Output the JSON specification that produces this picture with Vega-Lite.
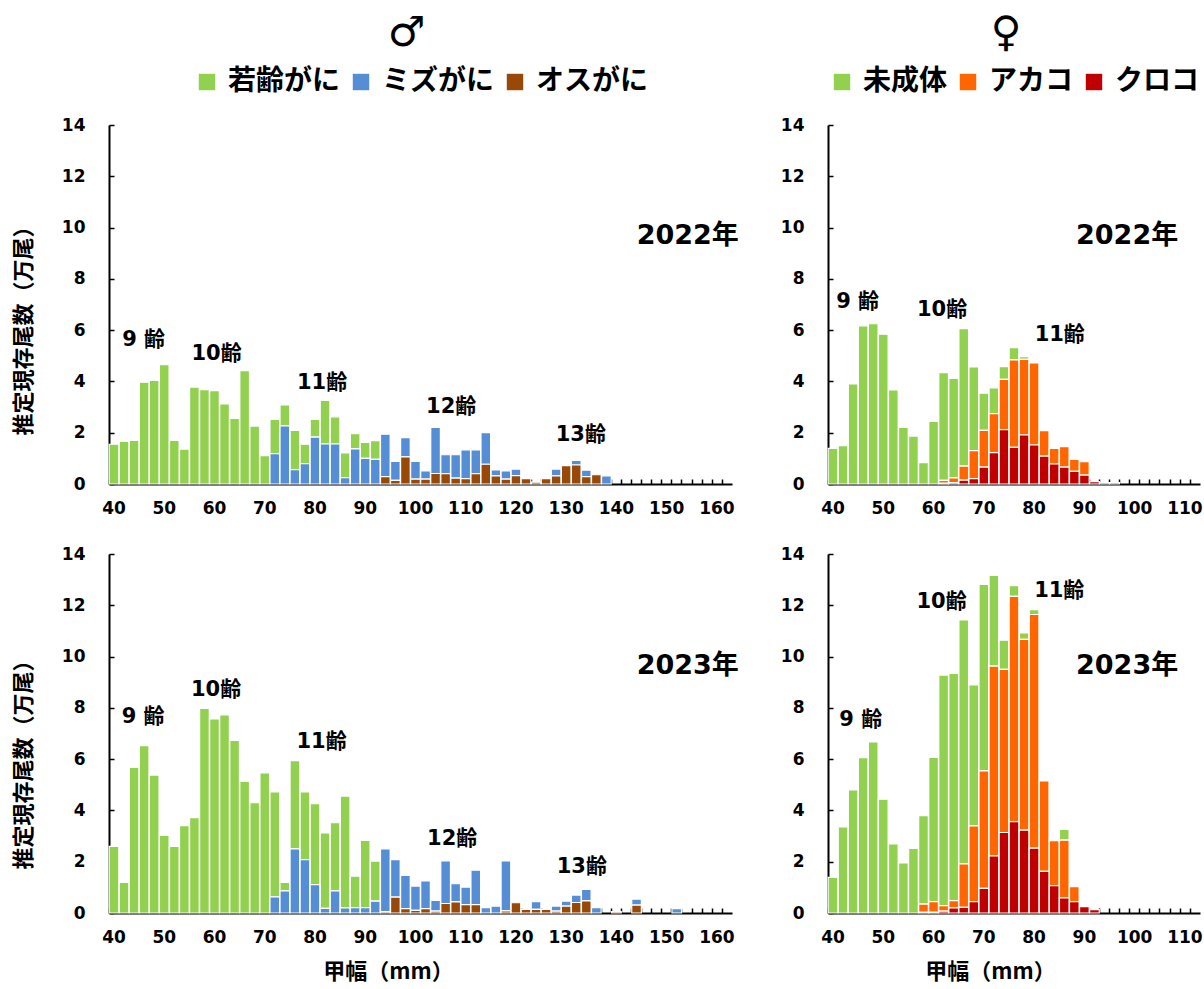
{
  "$schema": "https://vega.github.io/schema/vega-lite/v6.json",
  "padding": {"left": 12, "top": 12, "right": 5, "bottom": 2},
  "background": "white",
  "config": {
    "view": {"stroke": null},
    "font": "Noto Sans CJK JP",
    "axis": {
      "domainColor": "black", "domainWidth": 2, "tickColor": "black", "tickWidth": 1.5, "tickSize": -5,
      "labelFont": "DejaVu Sans", "labelFontWeight": "bold", "labelFontSize": 17, "labelColor": "black",
      "titleFont": "Noto Sans CJK JP", "titleFontWeight": "bold", "titleFontSize": 22, "titleColor": "black", "grid": false
    },
    "axisX": {"labelPadding": 21, "titlePadding": 16, "labelAngle": 0},
    "axisY": {"labelPadding": 29, "titlePadding": 26},
    "legend": {"orient": "top", "direction": "horizontal", "symbolType": "square", "symbolSize": 270, "symbolStrokeWidth": 0, "symbolOpacity": 1,
      "labelFont": "Noto Sans CJK JP", "labelFontSize": 28, "labelFontWeight": "bold", "labelColor": "black", "columnPadding": 6, "labelOffset": 7, "offset": 29,
      "layout": {"top": {"anchor": "middle"}}},
    "title": {"font": "DejaVu Sans", "fontSize": 42, "fontWeight": "bold", "color": "black", "offset": 13}
  },
  "datasets": {
    "mo": [{"s": "オスがに", "r": 0}, {"s": "ミズがに", "r": 1}, {"s": "若齢がに", "r": 2}],
    "fo": [{"s": "クロコ", "r": 0}, {"s": "アカコ", "r": 1}, {"s": "未成体", "r": 2}],
    "m22": [
      {"w":40,"s":"若齢がに","n":1.55},{"w":42,"s":"若齢がに","n":1.66},{"w":44,"s":"若齢がに","n":1.70},{"w":46,"s":"若齢がに","n":3.97},{"w":48,"s":"若齢がに","n":4.04},{"w":50,"s":"若齢がに","n":4.65},{"w":52,"s":"若齢がに","n":1.70},{"w":54,"s":"若齢がに","n":1.36},{"w":56,"s":"若齢がに","n":3.78},{"w":58,"s":"若齢がに","n":3.68},{"w":60,"s":"若齢がに","n":3.64},{"w":62,"s":"若齢がに","n":3.12},{"w":64,"s":"若齢がに","n":2.56},{"w":66,"s":"若齢がに","n":4.42},{"w":68,"s":"若齢がに","n":2.26},{"w":70,"s":"若齢がに","n":1.11},{"w":72,"s":"若齢がに","n":1.34},{"w":74,"s":"若齢がに","n":0.81},{"w":76,"s":"若齢がに","n":1.53},{"w":78,"s":"若齢がに","n":0.76},{"w":80,"s":"若齢がに","n":0.69},{"w":82,"s":"若齢がに","n":1.70},{"w":84,"s":"若齢がに","n":1.06},{"w":86,"s":"若齢がに","n":0.96},{"w":88,"s":"若齢がに","n":0.59},{"w":90,"s":"若齢がに","n":0.62},{"w":92,"s":"若齢がに","n":0.73},
      {"w":72,"s":"ミズがに","n":1.18},{"w":74,"s":"ミズがに","n":2.27},{"w":76,"s":"ミズがに","n":0.56},{"w":78,"s":"ミズがに","n":0.79},{"w":80,"s":"ミズがに","n":1.83},{"w":82,"s":"ミズがに","n":1.56},{"w":84,"s":"ミズがに","n":1.56},{"w":86,"s":"ミズがに","n":0.25},{"w":88,"s":"ミズがに","n":1.37},{"w":90,"s":"ミズがに","n":1.00},{"w":92,"s":"ミズがに","n":0.96},{"w":94,"s":"ミズがに","n":1.65},{"w":96,"s":"ミズがに","n":0.74},{"w":98,"s":"ミズがに","n":0.75},{"w":100,"s":"ミズがに","n":0.69},{"w":102,"s":"ミズがに","n":0.32},{"w":104,"s":"ミズがに","n":1.80},{"w":106,"s":"ミズがに","n":0.74},{"w":108,"s":"ミズがに","n":0.91},{"w":110,"s":"ミズがに","n":1.12},{"w":112,"s":"ミズがに","n":0.93},{"w":114,"s":"ミズがに","n":1.23},{"w":116,"s":"ミズがに","n":0.23},{"w":118,"s":"ミズがに","n":0.32},{"w":120,"s":"ミズがに","n":0.25},{"w":128,"s":"ミズがに","n":0.26},{"w":132,"s":"ミズがに","n":0.18},{"w":134,"s":"ミズがに","n":0.25},{"w":138,"s":"ミズがに","n":0.32},
      {"w":94,"s":"オスがに","n":0.29},{"w":96,"s":"オスがに","n":0.14},{"w":98,"s":"オスがに","n":1.06},{"w":100,"s":"オスがに","n":0.19},{"w":102,"s":"オスがに","n":0.19},{"w":104,"s":"オスがに","n":0.41},{"w":106,"s":"オスがに","n":0.40},{"w":108,"s":"オスがに","n":0.23},{"w":110,"s":"オスがに","n":0.21},{"w":112,"s":"オスがに","n":0.40},{"w":114,"s":"オスがに","n":0.77},{"w":116,"s":"オスがに","n":0.32},{"w":118,"s":"オスがに","n":0.19},{"w":120,"s":"オスがに","n":0.33},{"w":122,"s":"オスがに","n":0.21},{"w":124,"s":"オスがに","n":0.07},{"w":126,"s":"オスがに","n":0.21},{"w":128,"s":"オスがに","n":0.32},{"w":130,"s":"オスがに","n":0.72},{"w":132,"s":"オスがに","n":0.74},{"w":134,"s":"オスがに","n":0.29},{"w":136,"s":"オスがに","n":0.36}
    ],
    "f22": [
      {"w":40,"s":"未成体","n":1.39},{"w":42,"s":"未成体","n":1.50},{"w":44,"s":"未成体","n":3.90},{"w":46,"s":"未成体","n":6.17},{"w":48,"s":"未成体","n":6.25},{"w":50,"s":"未成体","n":5.84},{"w":52,"s":"未成体","n":3.67},{"w":54,"s":"未成体","n":2.21},{"w":56,"s":"未成体","n":1.87},{"w":58,"s":"未成体","n":0.83},{"w":60,"s":"未成体","n":2.44},{"w":62,"s":"未成体","n":4.20},{"w":64,"s":"未成体","n":3.88},{"w":66,"s":"未成体","n":5.36},{"w":68,"s":"未成体","n":3.27},{"w":70,"s":"未成体","n":1.45},{"w":72,"s":"未成体","n":1.01},{"w":74,"s":"未成体","n":0.50},{"w":76,"s":"未成体","n":0.48},{"w":78,"s":"未成体","n":0.11},
      {"w":62,"s":"アカコ","n":0.11},{"w":64,"s":"アカコ","n":0.19},{"w":66,"s":"アカコ","n":0.55},{"w":68,"s":"アカコ","n":1.09},{"w":70,"s":"アカコ","n":1.43},{"w":72,"s":"アカコ","n":1.52},{"w":74,"s":"アカコ","n":1.96},{"w":76,"s":"アカコ","n":3.41},{"w":78,"s":"アカコ","n":2.95},{"w":80,"s":"アカコ","n":3.20},{"w":82,"s":"アカコ","n":0.99},{"w":84,"s":"アカコ","n":0.61},{"w":86,"s":"アカコ","n":0.80},{"w":88,"s":"アカコ","n":0.47},{"w":90,"s":"アカコ","n":0.52},
      {"w":62,"s":"クロコ","n":0.03},{"w":64,"s":"クロコ","n":0.05},{"w":66,"s":"クロコ","n":0.15},{"w":68,"s":"クロコ","n":0.21},{"w":70,"s":"クロコ","n":0.66},{"w":72,"s":"クロコ","n":1.22},{"w":74,"s":"クロコ","n":2.12},{"w":76,"s":"クロコ","n":1.43},{"w":78,"s":"クロコ","n":1.91},{"w":80,"s":"クロコ","n":1.52},{"w":82,"s":"クロコ","n":1.09},{"w":84,"s":"クロコ","n":0.78},{"w":86,"s":"クロコ","n":0.66},{"w":88,"s":"クロコ","n":0.49},{"w":90,"s":"クロコ","n":0.35},{"w":92,"s":"クロコ","n":0.09},{"w":94,"s":"クロコ","n":0.05},{"w":96,"s":"クロコ","n":0.05}
    ],
    "m23": [
      {"w":40,"s":"若齢がに","n":2.60},{"w":42,"s":"若齢がに","n":1.19},{"w":44,"s":"若齢がに","n":5.68},{"w":46,"s":"若齢がに","n":6.53},{"w":48,"s":"若齢がに","n":5.38},{"w":50,"s":"若齢がに","n":3.03},{"w":52,"s":"若齢がに","n":2.60},{"w":54,"s":"若齢がに","n":3.41},{"w":56,"s":"若齢がに","n":3.72},{"w":58,"s":"若齢がに","n":7.98},{"w":60,"s":"若齢がに","n":7.57},{"w":62,"s":"若齢がに","n":7.73},{"w":64,"s":"若齢がに","n":6.73},{"w":66,"s":"若齢がに","n":5.13},{"w":68,"s":"若齢がに","n":4.30},{"w":70,"s":"若齢がに","n":5.46},{"w":72,"s":"若齢がに","n":4.09},{"w":74,"s":"若齢がに","n":0.33},{"w":76,"s":"若齢がに","n":3.44},{"w":78,"s":"若齢がに","n":2.64},{"w":80,"s":"若齢がに","n":3.15},{"w":82,"s":"若齢がに","n":2.94},{"w":84,"s":"若齢がに","n":2.66},{"w":86,"s":"若齢がに","n":4.36},{"w":88,"s":"若齢がに","n":1.23},{"w":90,"s":"若齢がに","n":2.62},{"w":92,"s":"若齢がに","n":1.56},
      {"w":72,"s":"ミズがに","n":0.63},{"w":74,"s":"ミズがに","n":0.86},{"w":76,"s":"ミズがに","n":2.50},{"w":78,"s":"ミズがに","n":2.08},{"w":80,"s":"ミズがに","n":1.11},{"w":82,"s":"ミズがに","n":0.18},{"w":84,"s":"ミズがに","n":0.86},{"w":86,"s":"ミズがに","n":0.20},{"w":88,"s":"ミズがに","n":0.21},{"w":90,"s":"ミズがに","n":0.21},{"w":92,"s":"ミズがに","n":0.46},{"w":94,"s":"ミズがに","n":2.45},{"w":96,"s":"ミズがに","n":1.46},{"w":98,"s":"ミズがに","n":1.30},{"w":100,"s":"ミズがに","n":0.95},{"w":102,"s":"ミズがに","n":1.08},{"w":104,"s":"ミズがに","n":0.42},{"w":106,"s":"ミズがに","n":1.66},{"w":108,"s":"ミズがに","n":0.71},{"w":110,"s":"ミズがに","n":0.68},{"w":112,"s":"ミズがに","n":1.34},{"w":114,"s":"ミズがに","n":0.21},{"w":116,"s":"ミズがに","n":0.27},{"w":118,"s":"ミズがに","n":1.95},{"w":124,"s":"ミズがに","n":0.30},{"w":128,"s":"ミズがに","n":0.20},{"w":130,"s":"ミズがに","n":0.19},{"w":132,"s":"ミズがに","n":0.29},{"w":134,"s":"ミズがに","n":0.45},{"w":136,"s":"ミズがに","n":0.21},{"w":144,"s":"ミズがに","n":0.23},{"w":152,"s":"ミズがに","n":0.17},
      {"w":94,"s":"オスがに","n":0.05},{"w":96,"s":"オスがに","n":0.62},{"w":98,"s":"オスがに","n":0.17},{"w":100,"s":"オスがに","n":0.10},{"w":102,"s":"オスがに","n":0.17},{"w":104,"s":"オスがに","n":0.07},{"w":106,"s":"オスがに","n":0.37},{"w":108,"s":"オスがに","n":0.43},{"w":110,"s":"オスがに","n":0.33},{"w":112,"s":"オスがに","n":0.33},{"w":118,"s":"オスがに","n":0.08},{"w":120,"s":"オスがに","n":0.40},{"w":122,"s":"オスがに","n":0.14},{"w":124,"s":"オスがに","n":0.14},{"w":126,"s":"オスがに","n":0.14},{"w":128,"s":"オスがに","n":0.07},{"w":130,"s":"オスがに","n":0.27},{"w":132,"s":"オスがに","n":0.41},{"w":134,"s":"オスがに","n":0.47},{"w":140,"s":"オスがに","n":0.05},{"w":144,"s":"オスがに","n":0.31}
    ],
    "f23": [
      {"w":40,"s":"未成体","n":1.39},{"w":42,"s":"未成体","n":3.36},{"w":44,"s":"未成体","n":4.80},{"w":46,"s":"未成体","n":6.06},{"w":48,"s":"未成体","n":6.67},{"w":50,"s":"未成体","n":4.44},{"w":52,"s":"未成体","n":2.69},{"w":54,"s":"未成体","n":1.95},{"w":56,"s":"未成体","n":2.52},{"w":58,"s":"未成体","n":3.45},{"w":60,"s":"未成体","n":5.63},{"w":62,"s":"未成体","n":8.99},{"w":64,"s":"未成体","n":8.86},{"w":66,"s":"未成体","n":9.52},{"w":68,"s":"未成体","n":5.50},{"w":70,"s":"未成体","n":7.27},{"w":72,"s":"未成体","n":3.54},{"w":74,"s":"未成体","n":1.14},{"w":76,"s":"未成体","n":0.42},{"w":78,"s":"未成体","n":0.25},{"w":80,"s":"未成体","n":0.19},{"w":86,"s":"未成体","n":0.42},
      {"w":58,"s":"アカコ","n":0.32},{"w":60,"s":"アカコ","n":0.41},{"w":62,"s":"アカコ","n":0.22},{"w":64,"s":"アカコ","n":0.28},{"w":66,"s":"アカコ","n":1.69},{"w":68,"s":"アカコ","n":2.96},{"w":70,"s":"アカコ","n":4.58},{"w":72,"s":"アカコ","n":7.40},{"w":74,"s":"アカコ","n":6.36},{"w":76,"s":"アカコ","n":8.79},{"w":78,"s":"アカコ","n":7.44},{"w":80,"s":"アカコ","n":9.11},{"w":82,"s":"アカコ","n":3.53},{"w":84,"s":"アカコ","n":1.75},{"w":86,"s":"アカコ","n":2.25},{"w":88,"s":"アカコ","n":0.59},
      {"w":58,"s":"クロコ","n":0.03},{"w":60,"s":"クロコ","n":0.03},{"w":62,"s":"クロコ","n":0.07},{"w":64,"s":"クロコ","n":0.20},{"w":66,"s":"クロコ","n":0.22},{"w":68,"s":"クロコ","n":0.44},{"w":70,"s":"クロコ","n":0.96},{"w":72,"s":"クロコ","n":2.23},{"w":74,"s":"クロコ","n":3.14},{"w":76,"s":"クロコ","n":3.56},{"w":78,"s":"クロコ","n":3.23},{"w":80,"s":"クロコ","n":2.53},{"w":82,"s":"クロコ","n":1.62},{"w":84,"s":"クロコ","n":1.07},{"w":86,"s":"クロコ","n":0.59},{"w":88,"s":"クロコ","n":0.44},{"w":90,"s":"クロコ","n":0.25},{"w":92,"s":"クロコ","n":0.13}
    ],
    "m22a": [{"w":45.9,"n":5.6,"t":"9 齢"},{"w":60.4,"n":5.07,"t":"10齢"},{"w":81.4,"n":3.92,"t":"11齢"},{"w":107.1,"n":2.99,"t":"12齢"},{"w":132.9,"n":1.9,"t":"13齢"}],
    "m22y": [{"w":154.2,"n":9.69,"t":"2022年"}],
    "f22a": [{"w":44.9,"n":7.08,"t":"9 齢"},{"w":61.7,"n":6.8,"t":"10齢"},{"w":85.1,"n":5.81,"t":"11齢"}],
    "f22y": [{"w":98.5,"n":9.69,"t":"2022年"}],
    "m23a": [{"w":45.8,"n":7.66,"t":"9 齢"},{"w":60.3,"n":8.71,"t":"10齢"},{"w":81.3,"n":6.65,"t":"11齢"},{"w":107.3,"n":2.87,"t":"12齢"},{"w":133.1,"n":1.8,"t":"13齢"}],
    "m23y": [{"w":154.2,"n":9.65,"t":"2023年"}],
    "f23a": [{"w":45.5,"n":7.53,"t":"9 齢"},{"w":61.6,"n":12.12,"t":"10齢"},{"w":85.0,"n":12.55,"t":"11齢"}],
    "f23y": [{"w":98.5,"n":9.65,"t":"2023年"}]
  },
  "columns": 2,
  "spacing": {"row": 70, "column": 96},
  "bounds": "flush",
  "align": "each",
  "resolve": {"scale": {"x": "independent", "y": "independent", "color": "independent"}},
  "concat": [
    {
      "width": 623, "height": 359,
      "title": {"text": "♂", "dx": -14},
      "encoding": {"y": {"field": "n", "type": "quantitative", "scale": {"domain": [0, 14], "nice": false}, "axis": {"values": [0,2,4,6,8,10,12,14], "title": "推定現存尾数（万尾）", "titleY": 200}}},
      "resolve": {"scale": {"x": "independent"}},
      "layer": [
        {
          "data": {"name": "m22"},
          "transform": [{"lookup": "s", "from": {"data": {"name": "mo"}, "key": "s", "fields": ["r"]}}],
          "mark": {"type": "bar", "stroke": "white", "strokeWidth": 1.2},
          "encoding": {
            "x": {"field": "w", "type": "ordinal", "scale": {"domain": [40,42,44,46,48,50,52,54,56,58,60,62,64,66,68,70,72,74,76,78,80,82,84,86,88,90,92,94,96,98,100,102,104,106,108,110,112,114,116,118,120,122,124,126,128,130,132,134,136,138,140,142,144,146,148,150,152,154,156,158,160,162], "paddingInner": 0.04, "paddingOuter": 0.02}, "axis": {"title": null, "bandPosition": 0, "labelExpr": "datum.value % 10 === 0 ? datum.label : ''"}},
            "color": {"field": "s", "type": "nominal", "scale": {"domain": ["若齢がに", "ミズがに", "オスがに"], "range": ["#92D050", "#558ED5", "#984807"]}, "legend": {"title": null}},
            "order": {"field": "r", "type": "quantitative"}
          }
        },
        {
          "data": {"name": "m22a"},
          "mark": {"type": "text", "font": "DejaVu Sans, Noto Sans CJK JP", "fontSize": 21, "fontWeight": "bold", "color": "black"},
          "encoding": {"x": {"field": "w", "type": "quantitative", "scale": {"domain": [39, 163], "nice": false, "zero": false}, "axis": null}, "text": {"field": "t"}}
        },
        {
          "data": {"name": "m22y"},
          "mark": {"type": "text", "font": "DejaVu Sans, Noto Sans CJK JP", "fontSize": 27, "fontWeight": "bold", "color": "black"},
          "encoding": {"x": {"field": "w", "type": "quantitative", "scale": {"domain": [39, 163], "nice": false, "zero": false}, "axis": null}, "text": {"field": "t"}}
        }
      ]
    },
    {
      "width": 372, "height": 359,
      "title": {"text": "♀", "dx": -8},
      "encoding": {"y": {"field": "n", "type": "quantitative", "scale": {"domain": [0, 14], "nice": false}, "axis": {"values": [0,2,4,6,8,10,12,14], "title": null}}},
      "resolve": {"scale": {"x": "independent"}},
      "layer": [
        {
          "data": {"name": "f22"},
          "transform": [{"lookup": "s", "from": {"data": {"name": "fo"}, "key": "s", "fields": ["r"]}}],
          "mark": {"type": "bar", "stroke": "white", "strokeWidth": 1.2},
          "encoding": {
            "x": {"field": "w", "type": "ordinal", "scale": {"domain": [40,42,44,46,48,50,52,54,56,58,60,62,64,66,68,70,72,74,76,78,80,82,84,86,88,90,92,94,96,98,100,102,104,106,108,110,112], "paddingInner": 0.04, "paddingOuter": 0.02}, "axis": {"title": null, "bandPosition": 0, "labelExpr": "datum.value % 10 === 0 ? datum.label : ''"}},
            "color": {"field": "s", "type": "nominal", "scale": {"domain": ["未成体", "アカコ", "クロコ"], "range": ["#92D050", "#FF6600", "#C00000"]}, "legend": {"title": null}},
            "order": {"field": "r", "type": "quantitative"}
          }
        },
        {
          "data": {"name": "f22a"},
          "mark": {"type": "text", "font": "DejaVu Sans, Noto Sans CJK JP", "fontSize": 21, "fontWeight": "bold", "color": "black"},
          "encoding": {"x": {"field": "w", "type": "quantitative", "scale": {"domain": [39, 113], "nice": false, "zero": false}, "axis": null}, "text": {"field": "t"}}
        },
        {
          "data": {"name": "f22y"},
          "mark": {"type": "text", "font": "DejaVu Sans, Noto Sans CJK JP", "fontSize": 27, "fontWeight": "bold", "color": "black"},
          "encoding": {"x": {"field": "w", "type": "quantitative", "scale": {"domain": [39, 113], "nice": false, "zero": false}, "axis": null}, "text": {"field": "t"}}
        }
      ]
    },
    {
      "width": 623, "height": 359,
      "encoding": {"y": {"field": "n", "type": "quantitative", "scale": {"domain": [0, 14], "nice": false}, "axis": {"values": [0,2,4,6,8,10,12,14], "title": "推定現存尾数（万尾）", "titleY": 205}}},
      "resolve": {"scale": {"x": "independent"}},
      "layer": [
        {
          "data": {"name": "m23"},
          "transform": [{"lookup": "s", "from": {"data": {"name": "mo"}, "key": "s", "fields": ["r"]}}],
          "mark": {"type": "bar", "stroke": "white", "strokeWidth": 1.2},
          "encoding": {
            "x": {"field": "w", "type": "ordinal", "scale": {"domain": [40,42,44,46,48,50,52,54,56,58,60,62,64,66,68,70,72,74,76,78,80,82,84,86,88,90,92,94,96,98,100,102,104,106,108,110,112,114,116,118,120,122,124,126,128,130,132,134,136,138,140,142,144,146,148,150,152,154,156,158,160,162], "paddingInner": 0.04, "paddingOuter": 0.02}, "axis": {"title": "甲幅（mm）", "titleX": 279, "bandPosition": 0, "labelExpr": "datum.value % 10 === 0 ? datum.label : ''"}},
            "color": {"field": "s", "type": "nominal", "scale": {"domain": ["若齢がに", "ミズがに", "オスがに"], "range": ["#92D050", "#558ED5", "#984807"]}, "legend": null},
            "order": {"field": "r", "type": "quantitative"}
          }
        },
        {
          "data": {"name": "m23a"},
          "mark": {"type": "text", "font": "DejaVu Sans, Noto Sans CJK JP", "fontSize": 21, "fontWeight": "bold", "color": "black"},
          "encoding": {"x": {"field": "w", "type": "quantitative", "scale": {"domain": [39, 163], "nice": false, "zero": false}, "axis": null}, "text": {"field": "t"}}
        },
        {
          "data": {"name": "m23y"},
          "mark": {"type": "text", "font": "DejaVu Sans, Noto Sans CJK JP", "fontSize": 27, "fontWeight": "bold", "color": "black"},
          "encoding": {"x": {"field": "w", "type": "quantitative", "scale": {"domain": [39, 163], "nice": false, "zero": false}, "axis": null}, "text": {"field": "t"}}
        }
      ]
    },
    {
      "width": 372, "height": 359,
      "encoding": {"y": {"field": "n", "type": "quantitative", "scale": {"domain": [0, 14], "nice": false}, "axis": {"values": [0,2,4,6,8,10,12,14], "title": null}}},
      "resolve": {"scale": {"x": "independent"}},
      "layer": [
        {
          "data": {"name": "f23"},
          "transform": [{"lookup": "s", "from": {"data": {"name": "fo"}, "key": "s", "fields": ["r"]}}],
          "mark": {"type": "bar", "stroke": "white", "strokeWidth": 1.2},
          "encoding": {
            "x": {"field": "w", "type": "ordinal", "scale": {"domain": [40,42,44,46,48,50,52,54,56,58,60,62,64,66,68,70,72,74,76,78,80,82,84,86,88,90,92,94,96,98,100,102,104,106,108,110,112], "paddingInner": 0.04, "paddingOuter": 0.02}, "axis": {"title": "甲幅（mm）", "titleX": 162, "bandPosition": 0, "labelExpr": "datum.value % 10 === 0 ? datum.label : ''"}},
            "color": {"field": "s", "type": "nominal", "scale": {"domain": ["未成体", "アカコ", "クロコ"], "range": ["#92D050", "#FF6600", "#C00000"]}, "legend": null},
            "order": {"field": "r", "type": "quantitative"}
          }
        },
        {
          "data": {"name": "f23a"},
          "mark": {"type": "text", "font": "DejaVu Sans, Noto Sans CJK JP", "fontSize": 21, "fontWeight": "bold", "color": "black"},
          "encoding": {"x": {"field": "w", "type": "quantitative", "scale": {"domain": [39, 113], "nice": false, "zero": false}, "axis": null}, "text": {"field": "t"}}
        },
        {
          "data": {"name": "f23y"},
          "mark": {"type": "text", "font": "DejaVu Sans, Noto Sans CJK JP", "fontSize": 27, "fontWeight": "bold", "color": "black"},
          "encoding": {"x": {"field": "w", "type": "quantitative", "scale": {"domain": [39, 113], "nice": false, "zero": false}, "axis": null}, "text": {"field": "t"}}
        }
      ]
    }
  ]
}
